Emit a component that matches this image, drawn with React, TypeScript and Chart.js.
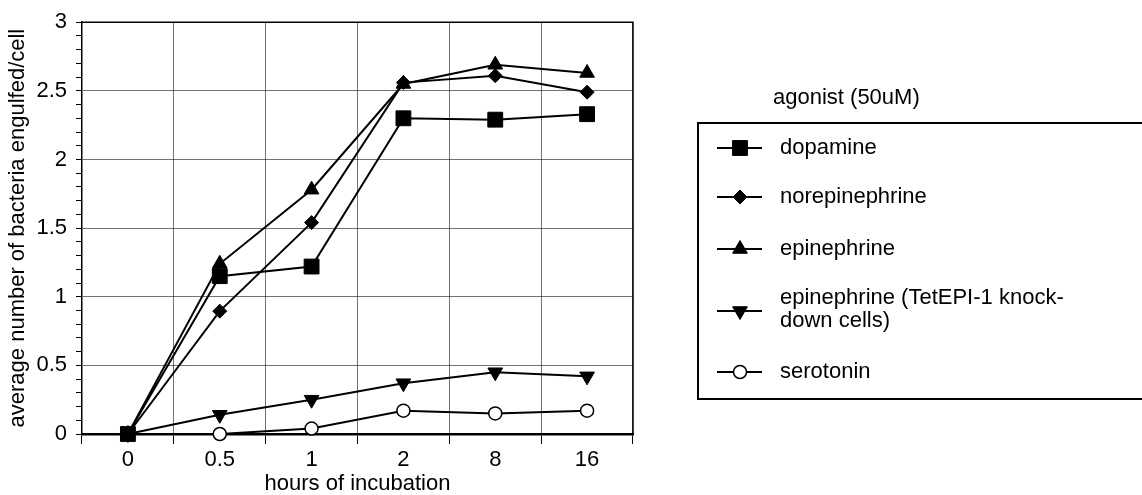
import React, { useEffect, useRef } from 'react';
import { Chart, registerables } from 'chart.js';
import { drawPoint } from 'chart.js/helpers';

Chart.register(...registerables);

const categories = ['0', '0.5', '1', '2', '8', '16'];
const dopamine = [0, 1.15, 1.22, 2.3, 2.29, 2.33];
const norepinephrine = [0, 0.895, 1.54, 2.56, 2.61, 2.49];
const epinephrine = [0, 1.24, 1.78, 2.55, 2.69, 2.63];
const epinephrineKnockdown = [0, 0.14, 0.25, 0.37, 0.45, 0.42];
const serotonin = [0, 0, 0.04, 0.17, 0.15, 0.17];

const seriesLabels: string[][] = [
  ['dopamine'],
  ['norepinephrine'],
  ['epinephrine'],
  ['epinephrine (TetEPI-1 knock-', 'down cells)'],
  ['serotonin'],
];
const legendTitle = 'agonist (50uM)';
const xTitle = 'hours of incubation';
const yTitle = 'average number of bacteria engulfed/cell';

const FONT = '"Liberation Sans", Arial, Helvetica, sans-serif';

const isMajor = (v: number) => Math.abs(v * 2 - Math.round(v * 2)) < 1e-6;

const framePlugin = {
  id: 'frame',
  beforeDatasetsDraw(chart: any) {
    const { ctx, chartArea } = chart;
    ctx.save();
    ctx.strokeStyle = '#000';
    ctx.lineWidth = 1.5;
    ctx.beginPath();
    ctx.moveTo(chartArea.left, chartArea.top);
    ctx.lineTo(chartArea.right, chartArea.top);
    ctx.lineTo(chartArea.right, chartArea.bottom);
    ctx.stroke();
    ctx.restore();
  },
};

const legendPlugin = {
  id: 'boxLegend',
  afterDraw(chart: any) {
    const ctx = chart.ctx;
    ctx.save();
    ctx.fillStyle = '#000';
    ctx.font = `22px ${FONT}`;
    ctx.textBaseline = 'middle';
    ctx.textAlign = 'left';
    ctx.fillText(legendTitle, 773, 98);

    ctx.strokeStyle = '#000';
    ctx.lineWidth = 2;
    ctx.strokeRect(698, 123, 520, 276);

    const rowY = [148, 197, 249, 311, 372];
    chart.data.datasets.forEach((ds: any, i: number) => {
      const y = rowY[i];
      ctx.strokeStyle = '#000';
      ctx.lineWidth = 2;
      ctx.beginPath();
      ctx.moveTo(717, y);
      ctx.lineTo(762, y);
      ctx.stroke();
      ctx.fillStyle = ds.pointBackgroundColor;
      ctx.strokeStyle = '#000';
      ctx.lineWidth = ds.pointBorderWidth;
      drawPoint(ctx, {
        pointStyle: ds.pointStyle,
        radius: ds.pointRadius,
        rotation: ds.pointRotation || 0,
        borderWidth: ds.pointBorderWidth,
      } as any, 740, y);
      ctx.fillStyle = '#000';
      const lines: string[] = seriesLabels[i];
      if (lines.length === 1) {
        ctx.fillText(lines[0], 780, y);
      } else {
        ctx.fillText(lines[0], 780, y - 13);
        ctx.fillText(lines[1], 780, y + 10);
      }
    });
    ctx.restore();
  },
};

export default function App() {
  const ref = useRef<HTMLCanvasElement>(null);
  useEffect(() => {
    document.body.style.margin = '0';
    if (!ref.current) return;
    const mk = (label: string, data: number[], style: string, radius: number, rot = 0, fill = '#000', bw = 1) => ({
      label,
      data,
      borderColor: '#000',
      borderWidth: 2,
      pointStyle: style,
      pointRadius: radius,
      pointRotation: rot,
      pointBackgroundColor: fill,
      pointBorderColor: '#000',
      pointBorderWidth: bw,
      clip: false as any,
      tension: 0,
    });
    const chart = new Chart(ref.current, {
      type: 'line',
      data: {
        labels: categories,
        datasets: [
          mk(seriesLabels[0].join(' '), dopamine, 'rect', 10.5),
          mk(seriesLabels[1].join(' '), norepinephrine, 'rectRot', 7),
          mk(seriesLabels[2].join(' '), epinephrine, 'triangle', 8.5),
          mk(seriesLabels[3].join(' '), epinephrineKnockdown, 'triangle', 8.5, 180),
          mk(seriesLabels[4].join(' '), serotonin, 'circle', 6.5, 0, '#fff', 1.5),
        ],
      },
      options: {
        animation: false,
        responsive: false,
        devicePixelRatio: 1,
        layout: { padding: { top: 20, right: 509, left: 0, bottom: 0 } },
        plugins: { legend: { display: false }, tooltip: { enabled: false } },
        scales: {
          x: {
            offset: true,
            grid: { offset: true, color: 'rgba(0,0,0,0.55)', lineWidth: 1, tickColor: '#000', tickLength: 10 },
            border: { color: '#000', width: 2.5 },
            ticks: { color: '#000', font: { size: 22, family: FONT }, padding: 3 },
            title: { display: true, text: xTitle, color: '#000', font: { size: 22, family: FONT }, padding: { top: 0, bottom: -2 } },
            afterFit: (s: any) => { s.height = 61; },
          },
          y: {
            min: 0,
            max: 3,
            ticks: {
              stepSize: 0.1,
              autoSkip: false,
              color: '#000',
              font: { size: 22, family: FONT },
              padding: 9,
              callback: (v: any) => (isMajor(Number(v)) ? String(Math.round(Number(v) * 2) / 2) : ''),
            },
            grid: {
              color: (c: any) => (c.tick && isMajor(c.tick.value) ? 'rgba(0,0,0,0.55)' : 'rgba(0,0,0,0)'),
              tickColor: '#000',
              tickLength: 6,
              lineWidth: 1,
            },
            border: { color: '#000', width: 1.5 },
            title: { display: true, text: yTitle, color: '#000', font: { size: 22, family: FONT }, padding: { top: 5, bottom: 0 } },
            afterFit: (s: any) => { s.width = 82; },
          },
        },
      } as any,
      plugins: [framePlugin, legendPlugin],
    });
    return () => chart.destroy();
  }, []);
  return (
    <div style={{ width: 1142, height: 495 }}>
      <canvas ref={ref} width={1142} height={495} style={{ display: 'block' }} />
    </div>
  );
}
